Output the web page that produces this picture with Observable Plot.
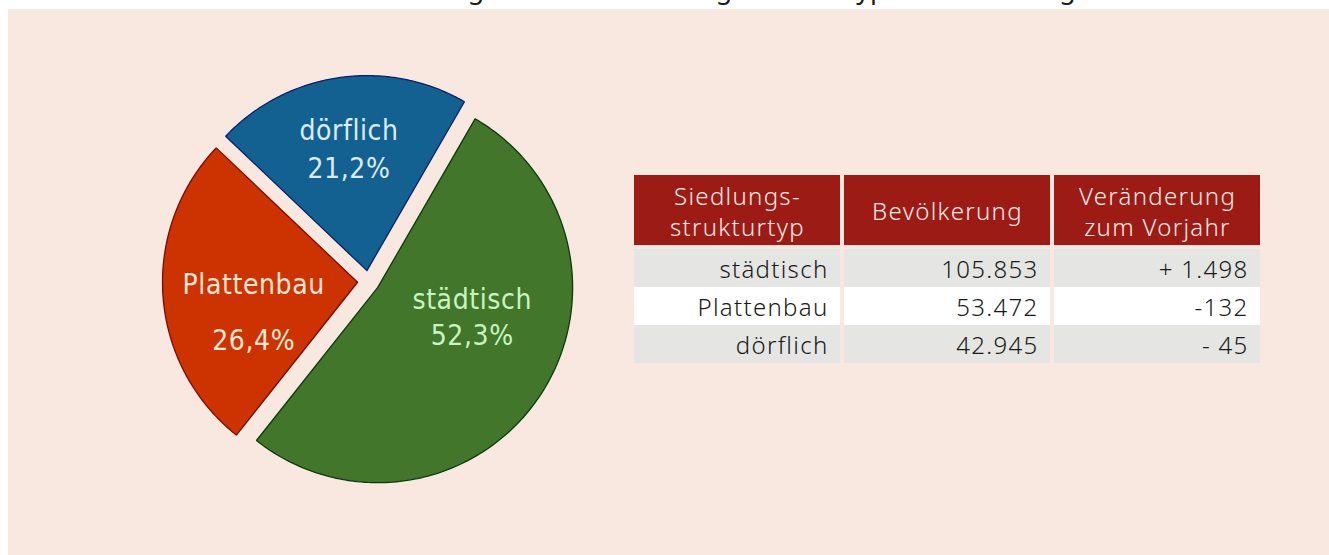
<!DOCTYPE html>
<html>
<head>
<meta charset="utf-8">
<script src="https://cdn.jsdelivr.net/npm/d3@7"></script>
<script src="https://cdn.jsdelivr.net/npm/@observablehq/plot@0.6"></script>
<style>
  html, body { margin: 0; padding: 0; background: #ffffff; width: 1329px; height: 555px; overflow: hidden; position: relative; }
  #title { position: absolute; left: 0; top: -31px; white-space: nowrap;
           font-family: "Noto Sans", sans-serif; font-size: 31px; line-height: 34px; color: #1a1a1a; }
  #panel { position: absolute; left: 8px; top: 9px; width: 1321px; height: 546px; background: #f9e8e0; }
  #pie { position: absolute; left: 0; top: 0; }
  #thead { position: absolute; left: 624px; top: 166px; }
  #tbody { position: absolute; left: 624px; top: 239px; }
  .pie text { letter-spacing: 0.6px; }
  .tab text { font-weight: 300; letter-spacing: 1.3px; }
</style>
</head>
<body>
<div id="title">Bevölkerung nach dem Siedlungsstrukturtyp und Änderung</div>
<div id="panel">
  <div id="pie"></div>
  <div id="thead"></div>
  <div id="tbody"></div>
</div>
<script>
// ---- data ----
const categories = ["städtisch", "Plattenbau", "dörflich"];
const population = [105853, 53472, 42945];
const changeLabels = ["+ 1.498", "-132", "- 45"];
const columns = ["Siedlungs-\nstrukturtyp", "Bevölkerung", "Veränderung\nzum Vorjahr"];

// ---- styles / layout ----
const sliceFill = ["#41762b", "#cc3300", "#136190"];
const sliceStroke = ["#0c3a0c", "#7a0a00", "#0a1f6e"];
const labelFill = ["#c8f5c0", "#ffe6d6", "#dcecff"];
const labelAngleShift = [-16, -7, 0];   // degrees, manual label placement
const labelRadius = [0.56, 0.6, 0.7];   // fraction of radius
const labelLineHeight = [1.3, 2.0, 1.36];
const labelFont = '"DejaVu Sans Condensed", "Roboto", sans-serif';

const de = d3.formatLocale({decimal: ",", thousands: ".", grouping: [3], currency: ["", " €"]});
const fmtInt = de.format(",d");
const fmtPct = de.format(".1f");

// ---- title: the reference shows only its clipped lower part ----
(function placeTitle() {
  const el = document.getElementById("title");
  const node = el.firstChild, s = node.textContent;
  const centerOf = idx => { const r = document.createRange(); r.setStart(node, idx); r.setEnd(node, idx + 1);
    const b = r.getBoundingClientRect(); return (b.left + b.right) / 2; };
  const i0 = s.indexOf("g"), i1 = s.lastIndexOf("g");
  const span = centerOf(i1) - centerOf(i0);
  const fs = 31 * 592 / span;
  el.style.fontSize = fs + "px";
  el.style.lineHeight = (fs * 34 / 31) + "px";
  el.style.top = (-31 * fs / 31) + "px";
  const x0 = centerOf(i0);
  el.style.left = (476 - x0) + "px";
})();

// ---- pie geometry (unit radius) ----
const R = 195;            // radius in px
const W = 600, H = 546;   // pie svg size
const CX = 360, CY = 272; // pie centre inside svg (px)
const explode = 11 / R;

const rows = categories.map((c, i) => ({name: c, value: population[i], i}));
const total = d3.sum(population);
const arcs = d3.pie().sort(null).value(d => d.value)
  .startAngle(Math.PI / 6).endAngle(Math.PI / 6 + 2 * Math.PI)(rows);

const marks = [];
arcs.forEach(a => {
  const mid = (a.startAngle + a.endAngle) / 2;
  const ox = explode * Math.sin(mid), oy = explode * Math.cos(mid);
  const n = 180;
  const pts = [{x: ox, y: oy}];
  for (let k = 0; k <= n; k++) {
    const t = a.startAngle + (a.endAngle - a.startAngle) * k / n;
    pts.push({x: ox + Math.sin(t), y: oy + Math.cos(t)});
  }
  pts.push({x: ox, y: oy});
  marks.push(Plot.line(pts, {x: "x", y: "y", curve: "linear",
    fill: sliceFill[a.data.i], stroke: sliceStroke[a.data.i], strokeWidth: 1.3, strokeLinejoin: "miter"}));
});

const labels = arcs.map(a => {
  const i = a.data.i;
  const ang = (a.startAngle + a.endAngle) / 2 + labelAngleShift[i] * Math.PI / 180;
  const r = labelRadius[i];
  return {
    x: r * Math.sin(ang),
    y: r * Math.cos(ang),
    text: a.data.name + "\n" + fmtPct(a.data.value / total * 100) + "%",
    i
  };
});
labels.forEach(l => {
  marks.push(Plot.text([l], {x: "x", y: "y", text: "text", fill: labelFill[l.i],
    fontSize: 28, lineHeight: labelLineHeight[l.i], fontFamily: labelFont}));
});

const pie = Plot.plot({
  width: W, height: H, margin: 0,
  className: "pie",
  style: {background: "transparent", overflow: "visible"},
  x: {domain: [-CX / R, (W - CX) / R], range: [0, W], axis: null},
  y: {domain: [-(H - CY) / R, CY / R], range: [H, 0], axis: null},
  marks
});
document.getElementById("pie").append(pie);

// ---- table ----
const TW = 630;
const head = Plot.plot({
  width: TW, height: 70, margin: 0,
  className: "tab",
  style: {background: "transparent", fontFamily: "Noto Sans"},
  x: {domain: columns, padding: 0, axis: null},
  marks: [
    Plot.cell(columns, {x: d => d, fill: "#9c1c15", insetLeft: 2, insetRight: 2}),
    Plot.text(columns, {x: d => d, text: d => d, fill: "#f7ebe8", fontSize: 24, lineHeight: 1.3,
      frameAnchor: "middle", fontFamily: "Noto Sans"})
  ]
});
document.getElementById("thead").append(head);

const cells = [];
categories.forEach((c, i) => {
  const vals = [c, fmtInt(population[i]), changeLabels[i]];
  columns.forEach((col, j) => cells.push({row: c, col, text: vals[j], fill: i % 2 ? "#ffffff" : "#e5e6e4"}));
});
const colW = TW / columns.length;
const body = Plot.plot({
  width: TW, height: 115, margin: 0,
  className: "tab",
  style: {background: "transparent", fontFamily: "Noto Sans"},
  x: {domain: columns, padding: 0, axis: null},
  y: {domain: categories, padding: 0, axis: null},
  color: {type: "identity"},
  marks: [
    Plot.cell(cells, {x: "col", y: "row", fill: "fill", insetLeft: 2, insetRight: 2}),
    Plot.text(cells, {x: "col", y: "row", text: "text", textAnchor: "end", dx: colW / 2 - 14, dy: 2,
      fill: "#1a1a1a", fontSize: 24, fontFamily: "Noto Sans"})
  ]
});
document.getElementById("tbody").append(body);
</script>
</body>
</html>
